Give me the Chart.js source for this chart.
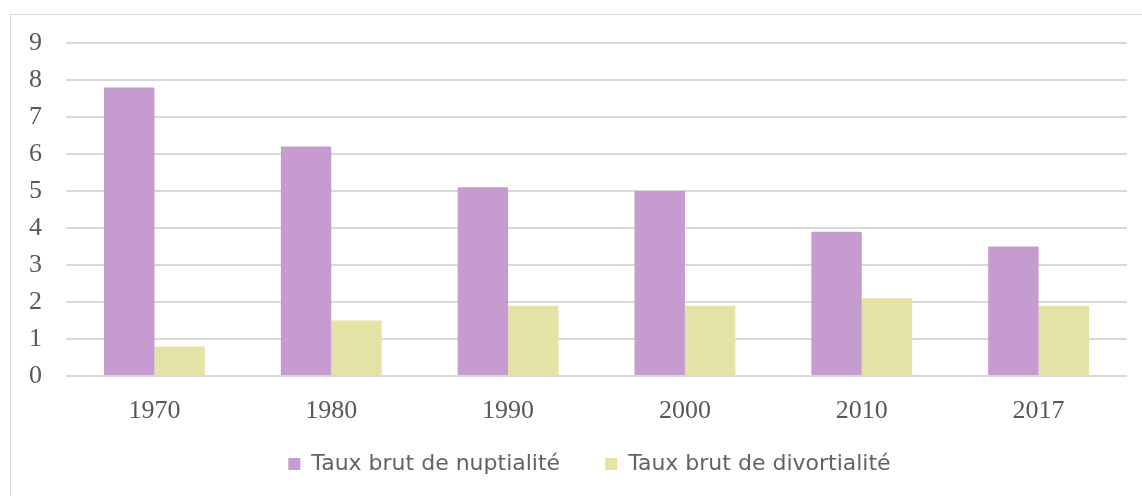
<!DOCTYPE html>
<html>
<head>
<meta charset="utf-8">
<script src="https://cdn.jsdelivr.net/npm/chart.js@4/dist/chart.umd.min.js"></script>
<style>
  html, body { margin: 0; padding: 0; background: #fff; overflow: hidden; }
  #frame { position: absolute; left: 10px; top: 14px; width: 1300px; height: 700px; border: 1px solid #d9d9d9; box-sizing: border-box; }
  #wrap { position: absolute; left: 0; top: 0; width: 1142px; height: 496px; }
</style>
</head>
<body>
<div id="frame"></div>
<div id="wrap"><canvas id="c" width="1142" height="496"></canvas></div>
<script>
const categories = ['1970', '1980', '1990', '2000', '2010', '2017'];
const nuptialite = [7.8, 6.2, 5.1, 5.0, 3.9, 3.5];
const divortialite = [0.8, 1.5, 1.9, 1.9, 2.1, 1.9];
const seriesNames = ['Taux brut de nuptialité', 'Taux brut de divortialité'];
const yTicks = [0, 1, 2, 3, 4, 5, 6, 7, 8, 9];

const legendBox = {
  id: 'legendBox',
  beforeLayout(chart) {
    const lg = chart.legend;
    if (lg && !lg._wrapped) {
      const orig = lg.fit;
      lg.fit = function () { orig.call(this); this.height = 64; };
      lg._wrapped = true;
    }
  },
  afterLayout(chart) {
    const lg = chart.legend;
    if (lg) {
      lg.left += 26; lg.right += 26;
      lg.top -= 24;
      lg.height = lg.bottom - lg.top;
    }
  }
};

new Chart(document.getElementById('c'), {
  type: 'bar',
  data: {
    labels: categories,
    datasets: [
      { label: seriesNames[0], data: nuptialite, backgroundColor: '#c69bcf', borderWidth: 0 },
      { label: seriesNames[1], data: divortialite, backgroundColor: '#e5e2a6', borderWidth: 0 }
    ]
  },
  options: {
    responsive: false,
    animation: false,
    devicePixelRatio: 1,
    layout: { padding: { left: 0, right: 15, top: 43, bottom: 0 } },
    datasets: { bar: { categoryPercentage: 0.57, barPercentage: 1.0 } },
    scales: {
      x: {
        grid: { display: false, drawTicks: false },
        border: { display: false },
        ticks: { color: '#595959', font: { family: 'Liberation Serif', size: 26 }, padding: 20 },
        afterFit: s => { s.height = 56; }
      },
      y: {
        min: 0, max: 9,
        afterBuildTicks: s => { s.ticks = yTicks.map(v => ({ value: v })); },
        grid: { color: '#d9d9d9', lineWidth: 2, drawTicks: false },
        border: { display: false },
        ticks: { color: '#595959', font: { family: 'Liberation Serif', size: 26 }, padding: 24 },
        afterFit: s => { s.width = 66; }
      }
    },
    plugins: {
      tooltip: { enabled: false },
      legend: {
        position: 'bottom',
        labels: {
          color: '#636363',
          font: { family: 'DejaVu Sans', size: 22 },
          boxWidth: 12, boxHeight: 12,
          padding: 45
        }
      }
    }
  },
  plugins: [legendBox]
});
</script>
</body>
</html>
